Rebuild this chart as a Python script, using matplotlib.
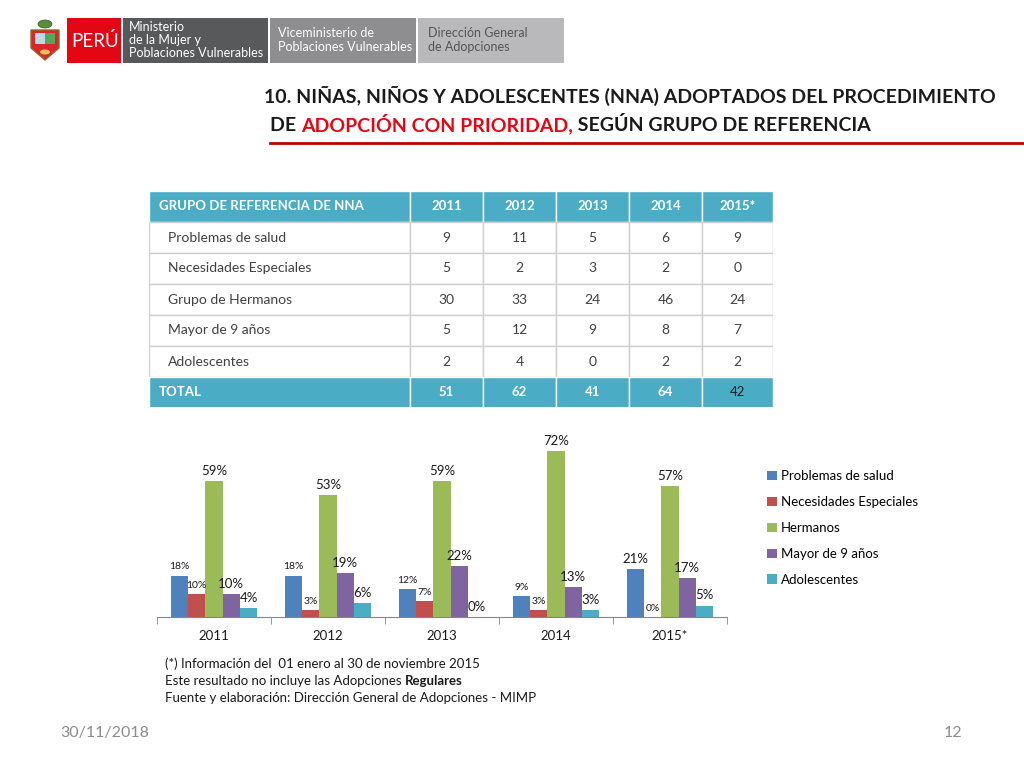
import numpy as np
import matplotlib
matplotlib.use("Agg")
import matplotlib.pyplot as plt
from matplotlib.patches import Rectangle, Polygon, Ellipse

plt.rcParams['font.family'] = ['Lato', 'DejaVu Sans']

# ---------------- datos ----------------
years = ["2011", "2012", "2013", "2014", "2015*"]
row_names = ["Problemas de salud", "Necesidades Especiales", "Grupo de Hermanos",
             "Mayor de 9 años", "Adolescentes"]
salud = [9, 11, 5, 6, 9]
necesidades = [5, 2, 3, 2, 0]
hermanos = [30, 33, 24, 46, 24]
mayor9 = [5, 12, 9, 8, 7]
adolescentes = [2, 4, 0, 2, 2]
totales = [51, 62, 41, 64, 42]

serie_names = ["Problemas de salud", "Necesidades Especiales", "Hermanos",
               "Mayor de 9 años", "Adolescentes"]
pct_salud = [18, 18, 12, 9, 21]
pct_necesidades = [10, 3, 7, 3, 0]
pct_hermanos = [59, 53, 59, 72, 57]
pct_mayor9 = [10, 19, 22, 13, 17]
pct_adolescentes = [4, 6, 0, 3, 5]

colors = ["#4F81BD", "#C0504D", "#9BBB59", "#8064A2", "#4BACC6"]
# tamaño de etiqueta (estilo): True = grande
big = [[False, False, False, False, True],
       [False, False, False, False, False],
       [True, True, True, True, True],
       [True, True, True, True, True],
       [True, True, True, True, True]]

W, H = 1024, 768
fig = plt.figure(figsize=(W / 100, H / 100), dpi=100)
fig.patch.set_facecolor("white")


def fx(x):
    return x / W


def fy(y):
    return 1 - y / H


# ---------------- cabecera ----------------
hdr = fig.add_axes([0, 0, 1, 1], zorder=0)
hdr.set_xlim(0, W)
hdr.set_ylim(H, 0)
hdr.axis("off")

# escudo (aproximado)
hdr.add_patch(Polygon([[31, 30], [59, 30], [59, 48], [45, 60], [31, 48]],
                      closed=True, fc="#D9262A", ec="#8B6B2E", lw=1))
hdr.add_patch(Rectangle((35, 33), 10, 11, fc="#BFD8E8", ec="none"))
hdr.add_patch(Rectangle((45, 33), 10, 11, fc="#5BA35B", ec="none"))
hdr.add_patch(Ellipse((45, 24), 14, 8, fc="#5C8C3A", ec="#3A5A22", lw=0.5))
hdr.add_patch(Ellipse((45, 52), 10, 5, fc="#E8C25A", ec="none"))

hdr.add_patch(Rectangle((67, 18), 54, 45, fc="#E30613", ec="none"))
hdr.text(95, 41, "PERÚ", color="white", fontsize=13.5, ha="center", va="center")
hdr.add_patch(Rectangle((123, 18), 145, 45, fc="#58595B", ec="none"))
hdr.text(129, 40, "Ministerio\nde la Mujer y\nPoblaciones Vulnerables", color="white",
         fontsize=9.0, ha="left", va="center", linespacing=1.12)
hdr.add_patch(Rectangle((270, 18), 146, 45, fc="#8E8E90", ec="none"))
hdr.text(278, 40, "Viceministerio de\nPoblaciones Vulnerables", color="white",
         fontsize=9.0, ha="left", va="center", linespacing=1.12)
hdr.add_patch(Rectangle((418, 18), 146, 45, fc="#B9B9BB", ec="none"))
hdr.text(428, 40, "Dirección General\nde Adopciones", color="#555555",
         fontsize=9.0, ha="left", va="center", linespacing=1.12)

# título
fig.text(fx(264), fy(103), "10. NIÑAS, NIÑOS Y ADOLESCENTES (NNA) ADOPTADOS DEL PROCEDIMIENTO",
         fontsize=14, fontweight="bold", color="#1A1A1A", ha="left", va="baseline")
renderer = fig.canvas.get_renderer()
x0 = 270
parts = [("DE ", "#1A1A1A"), ("ADOPCIÓN CON PRIORIDAD,", "#E30613"),
         (" SEGÚN GRUPO DE REFERENCIA", "#1A1A1A")]
for s, c in parts:
    t = fig.text(fx(x0), fy(131), s, fontsize=14, fontweight="bold", color=c,
                 ha="left", va="baseline")
    bb = t.get_window_extent(renderer)
    x0 += bb.width
hdr.plot([270, 1024], [143, 143], color="#C00000", lw=2)

# ---------------- tabla ----------------
tab = fig.add_axes([fx(149), fy(407), fx(773) - fx(149), fy(191) - fy(407)])
tab.set_xlim(149, 773)
tab.set_ylim(407, 191)
tab.axis("off")
teal = "#4BACC6"
col_edges = [149, 410, 483, 556, 629, 702, 773]
row_h = 31
top = 191
n_rows = len(row_names) + 2
for r in range(n_rows):
    y = top + r * row_h
    is_band = r == 0 or r == n_rows - 1
    for c in range(len(col_edges) - 1):
        tab.add_patch(Rectangle((col_edges[c], y), col_edges[c + 1] - col_edges[c], row_h,
                                fc=teal if is_band else "white",
                                ec="white" if is_band else "#D0D0D0", lw=1))
cols_data = [salud, necesidades, hermanos, mayor9, adolescentes]
tab.text(159, top + row_h / 2, "GRUPO DE REFERENCIA DE NNA", color="white",
         fontsize=9.5, fontweight="bold", ha="left", va="center")
for c, yr in enumerate(years):
    xc = (col_edges[c + 1] + col_edges[c + 2]) / 2
    tab.text(xc, top + row_h / 2, yr, color="white", fontsize=9.5,
             fontweight="bold", ha="center", va="center")
for r, name in enumerate(row_names):
    yc = top + (r + 1) * row_h + row_h / 2
    tab.text(168, yc, name, color="#404040", fontsize=10, ha="left", va="center")
    for c in range(len(years)):
        xc = (col_edges[c + 1] + col_edges[c + 2]) / 2
        tab.text(xc, yc, str(cols_data[r][c]), color="#404040", fontsize=10,
                 ha="center", va="center")
yc = top + (n_rows - 1) * row_h + row_h / 2
tab.text(159, yc, "TOTAL", color="white", fontsize=9.5, fontweight="bold",
         ha="left", va="center")
for c, v in enumerate(totales):
    xc = (col_edges[c + 1] + col_edges[c + 2]) / 2
    tab.text(xc, yc, str(v), color="white" if c < 4 else "#1A1A1A", fontsize=9.5,
             fontweight="bold" if c < 4 else "normal", ha="center", va="center")

# ---------------- gráfico ----------------
ax = fig.add_axes([fx(157), fy(617), fx(727) - fx(157), fy(430) - fy(617)])
series = [pct_salud, pct_necesidades, pct_hermanos, pct_mayor9, pct_adolescentes]
x = np.arange(len(years))
bw = 0.152
handles = []
for j, vals in enumerate(series):
    xs = x + (j - 2) * bw
    b = ax.bar(xs, vals, width=bw, color=colors[j], label=serie_names[j])
    handles.append(b)
    for i, v in enumerate(vals):
        ax.annotate(f"{v}%", (xs[i], v), xytext=(0, 3), textcoords="offset points",
                    ha="center", va="bottom", color="#1A1A1A",
                    fontsize=9.5 if big[j][i] else 7.5)
ax.set_xlim(-0.5, len(years) - 0.5)
ax.set_ylim(0, 187 / 2.3)
ax.set_yticks([])
for s in ["top", "right", "left"]:
    ax.spines[s].set_visible(False)
ax.spines["bottom"].set_color("#868686")
ax.set_xticks(x)
ax.set_xticklabels(years, fontsize=9.5, color="#1A1A1A")
ax.tick_params(axis="x", which="major", length=0, pad=9)
ax.set_xticks(np.arange(-0.5, len(years)), minor=True)
ax.tick_params(axis="x", which="minor", length=5, color="#868686")
ax.patch.set_alpha(0)

fig.legend(handles=handles, labels=serie_names, loc="upper left",
           bbox_to_anchor=(fx(762), fy(465)), frameon=False, fontsize=9.5,
           handlelength=0.7, handleheight=0.7, handletextpad=0.35,
           labelspacing=1.05, borderaxespad=0)

# ---------------- notas ----------------
fig.text(fx(165), fy(664), "(*) Información del  01 enero al 30 de noviembre 2015",
         fontsize=9.5, color="#1A1A1A", va="center")
t = fig.text(fx(165), fy(681), "Este resultado no incluye las Adopciones ",
             fontsize=9.5, color="#1A1A1A", va="center")
bb = t.get_window_extent(renderer)
fig.text(fx(165 + bb.width), fy(681), "Regulares", fontsize=9.5, fontweight="bold",
         color="#1A1A1A", va="center")
fig.text(fx(165), fy(698), "Fuente y elaboración: Dirección General de Adopciones - MIMP",
         fontsize=9.5, color="#1A1A1A", va="center")

fig.text(fx(60), fy(733), "30/11/2018", fontsize=11.5, color="#8C8C8C", va="center")
fig.text(fx(962), fy(733), "12", fontsize=11.5, color="#8C8C8C", va="center", ha="right")

fig.savefig("out.png", dpi=100)
